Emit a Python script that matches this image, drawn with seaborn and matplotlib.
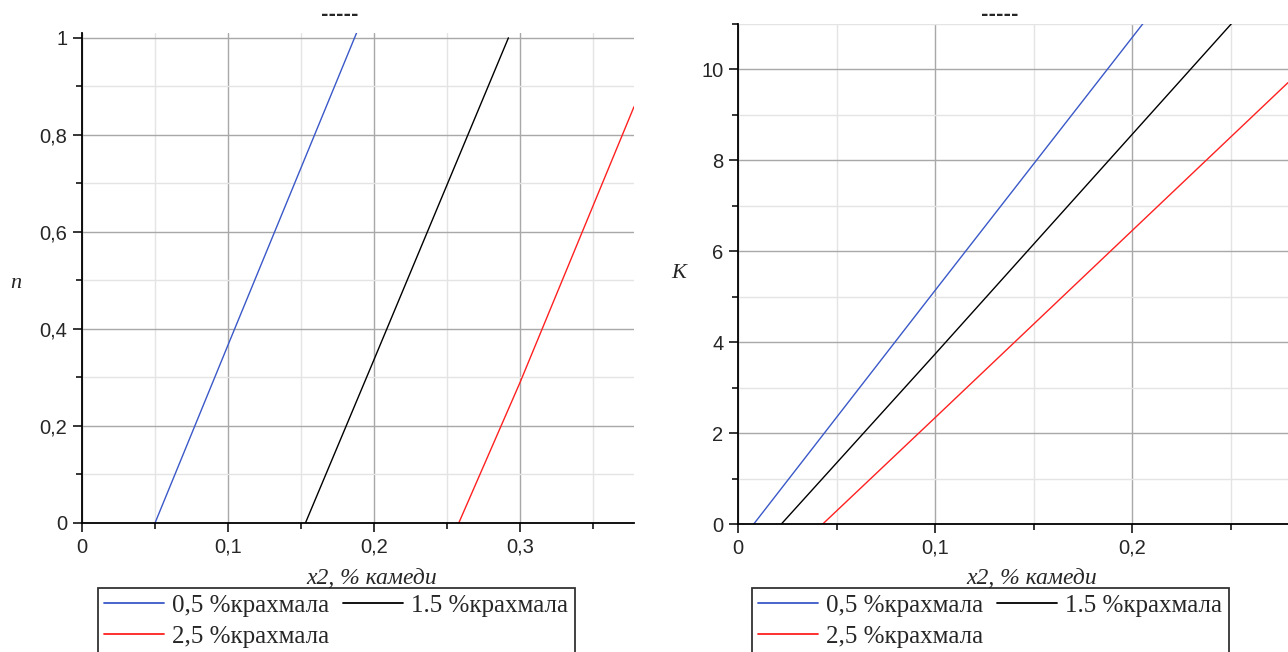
import matplotlib
matplotlib.use("Agg")
import matplotlib.pyplot as plt
import seaborn as sns
import pandas as pd
from matplotlib.ticker import FixedLocator
from matplotlib.lines import Line2D

# ---- data ----
series_names = ["0,5 %крахмала", "1.5 %крахмала", "2,5 %крахмала"]
series_colors = ["#3a58c8", "#000000", "#ff2020"]

# left panel: n vs x2
n_x_blue = [0.050, 0.100, 0.188]
n_y_blue = [0.0, 0.367, 1.01]
n_x_black = [0.153, 0.200, 0.292]
n_y_black = [0.0, 0.337, 1.00]
n_x_red = [0.258, 0.300, 0.378]
n_y_red = [0.0, 0.290, 0.858]

# right panel: K vs x2
k_x_blue = [0.008, 0.100, 0.206]
k_y_blue = [0.0, 5.14, 11.04]
k_x_black = [0.022, 0.100, 0.251]
k_y_black = [0.0, 3.74, 11.04]
k_x_red = [0.043, 0.100, 0.279]
k_y_red = [0.0, 2.34, 9.71]

n_xticks = [0, 0.1, 0.2, 0.3]
n_xtick_labels = ["0", "0,1", "0,2", "0,3"]
n_yticks = [0, 0.2, 0.4, 0.6, 0.8, 1.0]
n_ytick_labels = ["0", "0,2", "0,4", "0,6", "0,8", "1"]
k_xticks = [0, 0.1, 0.2]
k_xtick_labels = ["0", "0,1", "0,2"]
k_yticks = [0, 2, 4, 6, 8, 10]
k_ytick_labels = ["0", "2", "4", "6", "8", "10"]

xlabel = "x2, % камеди"

sns.set_style("white")
plt.rcParams["font.family"] = ["Liberation Sans", "DejaVu Sans"]

fig = plt.figure(figsize=(12.88, 6.52), dpi=100)
W, H = 1288, 652

def frac_box(l, r, t, b):
    return [l / W, 1 - b / H, (r - l) / W, (b - t) / H]

axL = fig.add_axes(frac_box(82, 634, 33, 523))
axR = fig.add_axes(frac_box(738, 1288, 24, 524))

def make_df(xs, ys):
    rows = []
    for name, xv, yv in zip(series_names, xs, ys):
        for a, b in zip(xv, yv):
            rows.append({"x": a, "y": b, "s": name})
    return pd.DataFrame(rows)

dfL = make_df([n_x_blue, n_x_black, n_x_red], [n_y_blue, n_y_black, n_y_red])
dfR = make_df([k_x_blue, k_x_black, k_x_red], [k_y_blue, k_y_black, k_y_red])
pal = dict(zip(series_names, series_colors))

def style_axes(ax, xlim, ylim, xt, xtl, xminor, yt, ytl, yminor, ylab, ylab_pos):
    ax.set_xlim(*xlim)
    ax.set_ylim(*ylim)
    ax.set_xticks(xt)
    ax.set_xticklabels(xtl)
    ax.set_yticks(yt)
    ax.set_yticklabels(ytl)
    ax.xaxis.set_minor_locator(FixedLocator(xminor))
    ax.yaxis.set_minor_locator(FixedLocator(yminor))
    ax.grid(True, which="major", color="#a8a8a8", linewidth=1.0)
    ax.grid(True, which="minor", color="#e4e4e4", linewidth=1.0)
    ax.set_axisbelow(True)
    for s in ["top", "right"]:
        ax.spines[s].set_visible(False)
    for s in ["left", "bottom"]:
        ax.spines[s].set_color("black")
        ax.spines[s].set_linewidth(1.3)
    ax.tick_params(which="major", direction="out", length=6.5, width=1.1, color="black",
                   bottom=True, left=True, labelsize=14.5, pad=4)
    ax.tick_params(which="minor", direction="out", length=4, width=1.1, color="black",
                   bottom=True, left=True)
    ax.set_xlabel("")
    ax.set_ylabel("")
    ax.text(ylab_pos[0], ylab_pos[1], ylab, transform=fig.transFigure,
            family="Liberation Serif", style="italic", fontsize=16, ha="center", va="center")

for ax, df in [(axL, dfL), (axR, dfR)]:
    sns.lineplot(data=df, x="x", y="y", hue="s", palette=pal, ax=ax,
                 linewidth=1.0, legend=False, estimator=None, sort=False)

style_axes(axL, (0, 0.378), (0, 1.01), n_xticks, n_xtick_labels, [0.05, 0.15, 0.25, 0.35],
           n_yticks, n_ytick_labels, [0.1, 0.3, 0.5, 0.7, 0.9], "n", (16 / W, 1 - 283 / H))
style_axes(axR, (0, 0.279), (0, 11.0), k_xticks, k_xtick_labels, [0.05, 0.15, 0.25],
           k_yticks, k_ytick_labels, [1, 3, 5, 7, 9, 11], "K", (679 / W, 1 - 273 / H))

# x labels and placeholder titles
for cx, tx in [(372, 340), (1032, 1000)]:
    fig.text(cx / W, 1 - 578 / H, xlabel, family="Liberation Serif", style="italic",
             fontsize=17, ha="center", va="center")
    fig.text(tx / W, 1 - 15 / H, "-----", family="DejaVu Sans", fontsize=13,
             fontweight="bold", ha="center", va="center")

# legends
order = [0, 2, 1]
for lx in [98, 752]:
    handles = [Line2D([], [], color=series_colors[i], linewidth=1.3) for i in order]
    labels = [series_names[i] for i in order]
    leg = fig.legend(handles, labels, loc="upper left",
                     bbox_to_anchor=(lx / W, 1 - 588 / H), bbox_transform=fig.transFigure,
                     ncol=2, frameon=True, fancybox=False, borderaxespad=0,
                     prop={"family": "Liberation Serif", "size": 18},
                     handlelength=2.4, handletextpad=0.32, columnspacing=0.56,
                     labelspacing=0.35, borderpad=0.25)
    leg.get_frame().set_edgecolor("black")
    leg.get_frame().set_linewidth(1.3)

fig.savefig("out.png", dpi=100)
